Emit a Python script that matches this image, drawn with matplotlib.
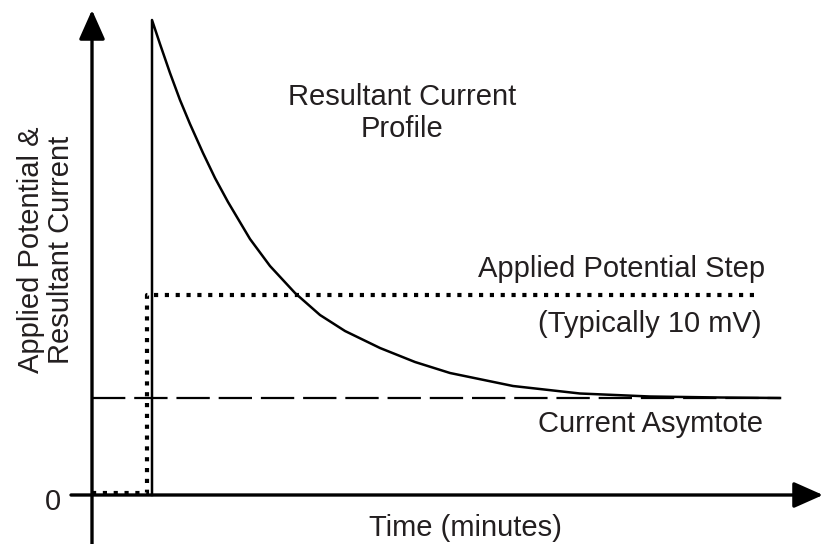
import matplotlib
matplotlib.use('Agg')
import matplotlib.pyplot as plt

# time axis in arbitrary units, signal in arbitrary units
step_t = 5.5          # time of the applied potential step
step_low = 0.2
step_high = 20.0
step_end = 66.5

asymptote = 9.7
asym_end = 68.8

# resultant current profile
cur_t = [6.0, 6.0, 6.8, 7.8, 8.8, 9.8, 11.1, 12.3, 13.6, 15.8, 17.8, 20.3,
         22.8, 25.3, 28.8, 32.3, 35.8, 42.1, 48.8, 55.8, 62.8, 68.8]
cur_i = [0.0, 47.5, 45.1, 42.2, 39.5, 37.1, 34.2, 31.7, 29.3, 25.6, 22.9, 20.2,
         18.0, 16.4, 14.7, 13.3, 12.2, 10.9, 10.15, 9.85, 9.75, 9.7]

pot_t = [0.0, step_t, step_t, step_end]
pot_v = [step_low, step_low, step_high, step_high]

txt = '#231f20'
plt.rcParams['font.family'] = ['Liberation Sans', 'DejaVu Sans']

fig = plt.figure(figsize=(8.24, 5.44), dpi=100)
ax = fig.add_axes([0, 0, 1, 1])
ax.set_xlim(-9.2, 73.2)
ax.set_ylim(-4.9, 49.5)
ax.axis('off')

# axes with arrow heads
arrow = dict(arrowstyle='-|>,head_length=0.9,head_width=0.4', lw=2.4, color='black',
             mutation_scale=20, shrinkA=0, shrinkB=0)
ax.annotate('', xy=(0, 48.5), xytext=(0, -4.9), arrowprops=arrow)
ax.annotate('', xy=(73.1, 0), xytext=(-2.1, 0), arrowprops=arrow)

ax.plot([0, asym_end], [asymptote, asymptote], color='black', lw=1.6,
        linestyle=(0, (15, 4)))
ax.plot(pot_t, pot_v, color='black', lw=3, linestyle=(0, (1, 1.6)),
        dash_capstyle='butt')
ax.plot(cur_t, cur_i, color='black', lw=1.8, solid_joinstyle='round')

fs = 21
ax.text(31.0, 35.8, 'Resultant Current\nProfile', ha='center', va='baseline',
        fontsize=fs, color=txt, linespacing=1.2)
ax.text(67.3, 21.8, 'Applied Potential Step', ha='right', va='baseline',
        fontsize=fs, color=txt)
ax.text(67.0, 16.3, '(Typically 10 mV)', ha='right', va='baseline',
        fontsize=fs, color=txt)
ax.text(67.1, 6.3, 'Current Asymtote', ha='right', va='baseline',
        fontsize=fs, color=txt)
ax.text(37.3, -4.1, 'Time (minutes)', ha='center', va='baseline',
        fontsize=fs, color=txt)
ax.text(-3.9, -0.7, '0', ha='center', va='center', fontsize=fs, color=txt)
ax.text(-4.6, 24.5, 'Applied Potential &\nResultant Current', ha='center',
        va='center', rotation=90, fontsize=fs, color=txt, linespacing=1.1)

fig.savefig('out.png', dpi=100)
